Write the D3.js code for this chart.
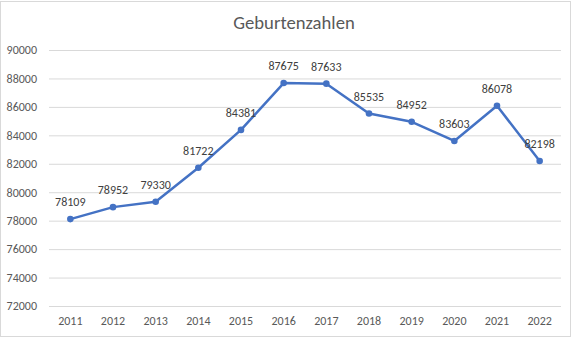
<!DOCTYPE html>
<html><head><meta charset="utf-8">
<script src="https://cdn.jsdelivr.net/npm/d3@7"></script>
<style>body{margin:0;background:#fff}svg{display:block}</style>
</head><body>
<script>
const title = "Geburtenzahlen";
const years = ["2011","2012","2013","2014","2015","2016","2017","2018","2019","2020","2021","2022"];
const births = [78109, 78952, 79330, 81722, 84381, 87675, 87633, 85535, 84952, 83603, 86078, 82198];
const yTicks = [72000, 74000, 76000, 78000, 80000, 82000, 84000, 86000, 88000, 90000];

const W = 576, H = 341;
const font = "Carlito, Calibri, 'Liberation Sans', Arial, sans-serif";
const svg = d3.select("body").append("svg").attr("width", W).attr("height", H);
svg.append("rect").attr("x",0.5).attr("y",1.5).attr("width",570).attr("height",335)
  .attr("fill","#fff").attr("stroke","#d9d9d9");

const x = d3.scaleBand().domain(years).range([49, 561]);
const y = d3.scaleLinear().domain([72000, 90000]).range([306, 50]);

svg.append("text").attr("x", 294).attr("y", 29).attr("text-anchor","middle")
  .attr("font-family", font).attr("font-size", 18.67).attr("fill","#595959").text(title);

const gy = svg.append("g").attr("transform","translate(49,0)")
  .call(d3.axisLeft(y).tickValues(yTicks).tickSize(-512).tickPadding(12).tickFormat(d3.format("d")));
gy.select(".domain").remove();
gy.selectAll("line").attr("stroke","#d9d9d9");
gy.selectAll("text").attr("font-family", font).attr("font-size", 12).attr("fill","#595959");

const gx = svg.append("g").attr("transform","translate(0,306)")
  .call(d3.axisBottom(x).tickSize(0).tickPadding(10));
gx.select(".domain").remove();
gx.selectAll("text").attr("font-family", font).attr("font-size", 12).attr("fill","#595959");

const cx = d => x(d) + x.bandwidth()/2;
const line = d3.line().x((d,i) => cx(years[i])).y(d => y(d));
svg.append("path").datum(births).attr("d", line).attr("fill","none")
  .attr("stroke","#4472C4").attr("stroke-width",2.5).attr("stroke-linejoin","round");
svg.selectAll("circle.pt").data(births).join("circle").attr("class","pt")
  .attr("cx",(d,i)=>cx(years[i])).attr("cy",d=>y(d)).attr("r",3.3).attr("fill","#4472C4");
svg.selectAll("text.lbl").data(births).join("text").attr("class","lbl")
  .attr("x",(d,i)=>cx(years[i])).attr("y",d=>y(d)-13).attr("text-anchor","middle")
  .attr("font-family", font).attr("font-size", 12).attr("fill","#404040").text(d=>d);
</script>
</body></html>
